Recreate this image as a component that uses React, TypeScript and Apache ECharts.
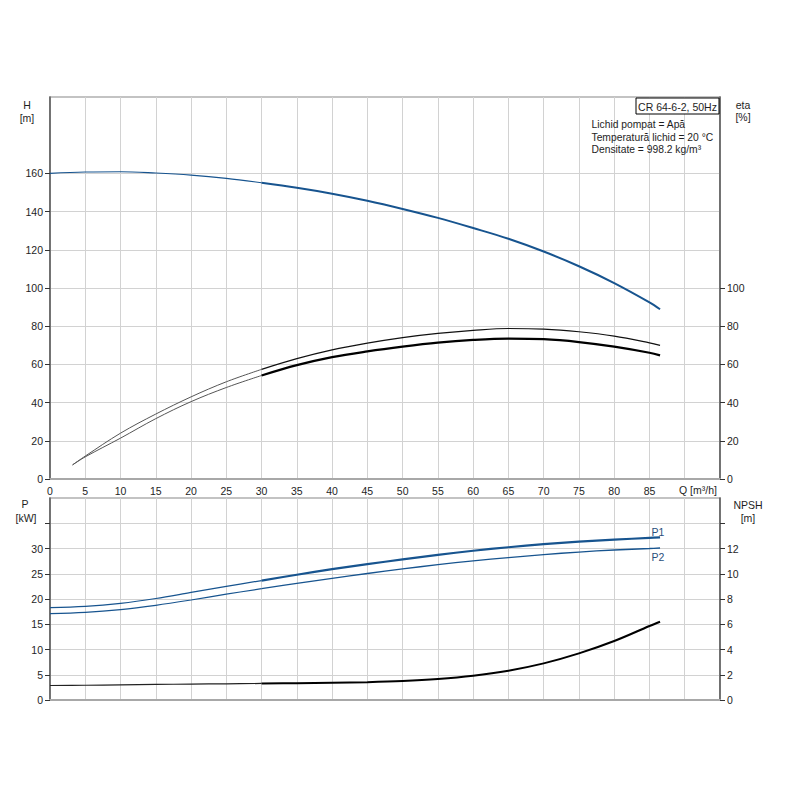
import React, { useEffect, useRef } from "react";
import * as echarts from "echarts";

// Flow values (m³/h)
const Q = [0, 5, 10, 15, 20, 25, 30, 35, 40, 45, 50, 55, 60, 65, 70, 75, 80, 85, 86.5];
// Head H [m]
const H = [160, 160.7, 160.9, 160.2, 159.1, 157.4, 155.1, 152.5, 149.4, 145.7, 141.4, 136.7, 131.4, 125.8, 119.1, 111.4, 102.6, 92.5, 88.9];
// Efficiency curves [%]
const ETA_Q = [3.2, 5, 10, 15, 20, 25, 30, 35, 40, 45, 50, 55, 60, 65, 70, 75, 80, 85, 86.5];
const ETA_PUMP = [7.4, 12.0, 24.0, 34.0, 43.0, 50.9, 57.4, 63.0, 67.6, 71.1, 74.0, 76.2, 77.8, 78.8, 78.5, 77.1, 74.8, 71.3, 70.0];
const ETA_TOTAL = [7.4, 11.6, 21.4, 31.6, 40.5, 47.9, 54.2, 59.6, 63.8, 66.8, 69.3, 71.4, 72.8, 73.5, 73.2, 71.7, 69.3, 66.1, 64.7];
// Power [kW]
const P1 = [18.3, 18.55, 19.15, 20.1, 21.3, 22.5, 23.65, 24.8, 25.9, 26.9, 27.85, 28.75, 29.55, 30.25, 30.85, 31.35, 31.75, 32.1, 32.2];
const P2 = [17.1, 17.35, 17.9, 18.75, 19.8, 20.95, 22.05, 23.1, 24.1, 25.05, 25.95, 26.8, 27.55, 28.2, 28.8, 29.3, 29.7, 30.0, 30.1];
// NPSH [m]
const NPSH = [1.15, 1.17, 1.2, 1.23, 1.26, 1.28, 1.31, 1.33, 1.36, 1.41, 1.5, 1.66, 1.92, 2.32, 2.9, 3.69, 4.67, 5.86, 6.2];

// Tick labels
const Q_LABELS = [0, 5, 10, 15, 20, 25, 30, 35, 40, 45, 50, 55, 60, 65, 70, 75, 80, 85];
const H_LABELS = [0, 20, 40, 60, 80, 100, 120, 140, 160];
const ETA_LABELS = [0, 20, 40, 60, 80, 100];
const P_LABELS = [0, 5, 10, 15, 20, 25, 30];
const P_TICKS = [0, 5, 10, 15, 20, 25, 30, 35];
const NPSH_LABELS = [0, 2, 4, 6, 8, 10, 12];
const NPSH_TICKS = [0, 2, 4, 6, 8, 10, 12, 14];

const DUTY_START = 30;

const FONT = "'Liberation Sans', Arial, sans-serif";
const BLUE = "#17548f";
const GRID_LINE = "#d2d2d2";

function seg(qs: number[], vs: number[], part: "thin" | "thick") {
  const out: number[][] = [];
  qs.forEach((q, i) => {
    if (part === "thin" ? q <= DUTY_START : q >= DUTY_START) out.push([q, vs[i]]);
  });
  return out;
}

function line(name: string, data: number[][], xi: number, yi: number, color: string, width: number) {
  return {
    name,
    type: "line",
    xAxisIndex: xi,
    yAxisIndex: yi,
    data,
    showSymbol: false,
    symbol: "none",
    smooth: 0.35,
    silent: true,
    lineStyle: { color, width },
  };
}

export default function App() {
  const ref = useRef<HTMLDivElement>(null);
  useEffect(() => {
    if (!ref.current) return;
    const chart = echarts.init(ref.current, undefined, { renderer: "svg" });
    const labelStyle = { fontFamily: FONT, fontSize: 10.5, color: "#1e1e1e" };
    const xBase = (gi: number, showLabels: boolean) => ({
      type: "value",
      gridIndex: gi,
      min: 0,
      max: 95,
      interval: 5,
      axisLine: { show: true, lineStyle: { color: "#a8a8a8", width: 2 } },
      axisTick: { show: false },
      splitLine: { show: true, lineStyle: { color: GRID_LINE, width: 1 } },
      axisLabel: showLabels
        ? {
            ...labelStyle,
            margin: 6,
            customValues: Q_LABELS,
            formatter: (v: number) => (v >= 90 ? "" : String(v)),
          }
        : { show: false },
    });
    const yBase = (
      gi: number,
      pos: "left" | "right",
      max: number,
      interval: number,
      labels: number[],
      ticks: number[],
      split: boolean
    ) => {
      const lmax = labels[labels.length - 1];
      return {
        type: "value",
        gridIndex: gi,
        position: pos,
        min: 0,
        max,
        interval,
        axisLine: { show: true, onZero: false, lineStyle: { color: "#555", width: 1.5 } },
        axisTick: { show: true, length: 5, customValues: ticks, lineStyle: { color: "#333", width: 1 } },
        axisLabel: {
          ...labelStyle,
          margin: 7,
          customValues: labels,
          formatter: (v: number) => (v > lmax ? "" : String(v)),
        },
        splitLine: { show: split, lineStyle: { color: GRID_LINE, width: 1 } },
      };
    };

    const txt = (x: number, y: number, text: string, align = "center", color = "#1e1e1e", size = 10.5) => ({
      type: "text",
      x,
      y,
      z: 100,
      style: { text, x: 0, y: 0, fill: color, font: `${size}px ${FONT}`, align, verticalAlign: "middle" },
    });

    chart.setOption({
      animation: false,
      backgroundColor: "#ffffff",
      grid: [
        { left: 50, top: 97, width: 670, height: 382, show: true, borderColor: "#b0b0b0", borderWidth: 1.5, backgroundColor: "transparent" },
        { left: 50, top: 498, width: 670, height: 202, show: true, borderColor: "#b0b0b0", borderWidth: 1.5, backgroundColor: "transparent" },
      ],
      xAxis: [xBase(0, true), xBase(1, false)],
      yAxis: [
        yBase(0, "left", 200, 20, H_LABELS, H_LABELS, true),
        yBase(0, "right", 200, 20, ETA_LABELS, ETA_LABELS, false),
        yBase(1, "left", 40, 5, P_LABELS, P_TICKS, true),
        yBase(1, "right", 16, 2, NPSH_LABELS, NPSH_TICKS, false),
      ],
      series: [
        line("H thin", seg(Q, H, "thin"), 0, 0, BLUE, 1.1),
        line("H", seg(Q, H, "thick"), 0, 0, BLUE, 2),
        line("eta pump thin", seg(ETA_Q, ETA_PUMP, "thin"), 0, 1, "#555", 1),
        line("eta pump", seg(ETA_Q, ETA_PUMP, "thick"), 0, 1, "#111", 1.2),
        line("eta thin", seg(ETA_Q, ETA_TOTAL, "thin"), 0, 1, "#555", 1),
        line("eta", seg(ETA_Q, ETA_TOTAL, "thick"), 0, 1, "#000", 2.2),
        line("P1 thin", seg(Q, P1, "thin"), 1, 2, BLUE, 1.2),
        line("P1", seg(Q, P1, "thick"), 1, 2, BLUE, 2.2),
        line("P2 thin", seg(Q, P2, "thin"), 1, 2, BLUE, 1.2),
        line("P2", seg(Q, P2, "thick"), 1, 2, BLUE, 1.3),
        line("NPSH thin", seg(Q, NPSH, "thin"), 1, 3, "#222", 1.2),
        line("NPSH", seg(Q, NPSH, "thick"), 1, 3, "#000", 2),
      ],
      graphic: [
        txt(27, 105, "H"),
        txt(27, 117.5, "[m]"),
        txt(743, 105, "eta"),
        txt(743, 117, "[%]"),
        txt(25, 504, "P"),
        txt(26, 517.5, "[kW]"),
        txt(748, 504.5, "NPSH"),
        txt(748, 517.5, "[m]"),
        txt(679, 490, "Q [m³/h]", "left"),
        {
          type: "rect",
          z: 99,
          shape: { x: 636, y: 98, width: 83, height: 16 },
          style: { fill: "#ffffff", stroke: "#000", lineWidth: 1 },
        },
        txt(677.5, 106.5, "CR 64-6-2, 50Hz"),
        txt(591.5, 124.5, "Lichid pompat = Apă", "left", "#1e1e1e", 10.3),
        txt(591.5, 137, "Temperatură lichid = 20 °C", "left", "#1e1e1e", 10.3),
        txt(591.5, 149.5, "Densitate = 998.2 kg/m³", "left", "#1e1e1e", 10.3),
        txt(658, 532, "P1", "center", "#2a4f7c"),
        txt(658, 557, "P2", "center", "#2a4f7c"),
      ],
    });
    return () => chart.dispose();
  }, []);
  return (
    <div
      ref={ref}
      style={{ position: "absolute", left: 0, top: 0, width: 800, height: 800, background: "#fff" }}
    />
  );
}
